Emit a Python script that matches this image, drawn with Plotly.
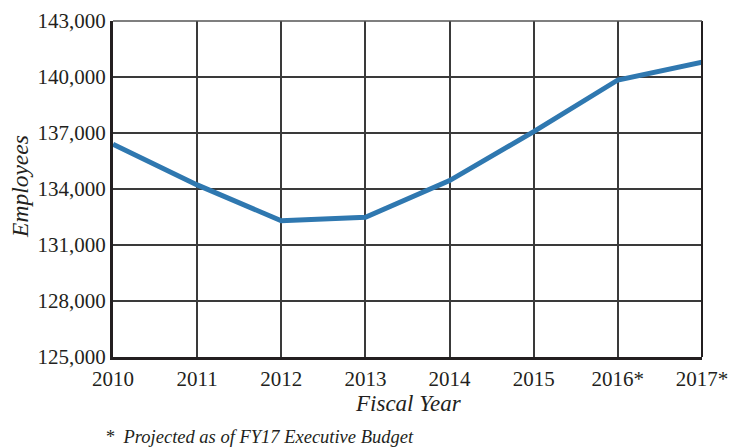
import plotly.graph_objects as go

years = ["2010", "2011", "2012", "2013", "2014", "2015", "2016*", "2017*"]
employees = [136400, 134220, 132300, 132480, 134450, 137070, 139840, 140790]
y_ticks = [125000, 128000, 131000, 134000, 137000, 140000, 143000]
y_tick_labels = ["125,000", "128,000", "131,000", "134,000", "137,000", "140,000", "143,000"]

xpos = list(range(len(years)))

fig = go.Figure()
fig.add_trace(go.Scatter(
    x=xpos, y=employees, mode="lines",
    line=dict(color="#2f78b0", width=5),
    hoverinfo="skip", showlegend=False,
))

font_family = "Liberation Serif"
# page body has an 8px margin, so the figure is 8px smaller and left/top offsets are reduced by 8
fig.update_layout(
    width=728, height=439,
    margin=dict(l=105, r=34, t=13, b=90, autoexpand=False),
    paper_bgcolor="white", plot_bgcolor="white",
    font=dict(family=font_family, size=21, color="#231f20"),
    xaxis=dict(
        range=[0, 7], tickvals=xpos, ticktext=years, automargin=False,
        showgrid=True, gridcolor="#3a3a3a", gridwidth=1.5,
        showline=True, linecolor="#231f20", linewidth=3,
        ticks="", ticklabelstandoff=1, zeroline=False,
        tickfont=dict(family=font_family, size=21, color="#231f20"),
    ),
    yaxis=dict(
        range=[125000, 143000], tickvals=y_ticks, ticktext=y_tick_labels, automargin=False,
        showgrid=True, gridcolor="#3a3a3a", gridwidth=1.5,
        showline=True, linecolor="#231f20", linewidth=3,
        ticks="", ticklabelstandoff=0, zeroline=False,
        tickfont=dict(family=font_family, size=21, color="#231f20"),
    ),
    shapes=[
        dict(type="line", xref="paper", yref="paper", x0=1, x1=1, y0=0, y1=1,
             line=dict(color="#231f20", width=2)),
        dict(type="line", xref="paper", yref="paper", x0=0, x1=1, y0=1, y1=1,
             line=dict(color="#555555", width=1.5)),
    ],
    annotations=[
        dict(text="<i>Employees</i>", xref="paper", yref="paper",
             x=-0.158, y=0.509, xanchor="center", yanchor="middle", textangle=-90,
             showarrow=False, font=dict(family=font_family, size=23.5, color="#231f20")),
        dict(text="<i>Fiscal Year</i>", xref="paper", yref="paper",
             x=0.501, y=-0.137, xanchor="center", yanchor="middle",
             showarrow=False, font=dict(family=font_family, size=23, color="#231f20")),
        dict(text="<i>*  Projected as of FY17 Executive Budget</i>", xref="paper", yref="paper",
             x=-0.017, y=-0.237, xanchor="left", yanchor="middle",
             showarrow=False, font=dict(family=font_family, size=18.5, color="#231f20")),
    ],
)

fig.write_html("out.html")
